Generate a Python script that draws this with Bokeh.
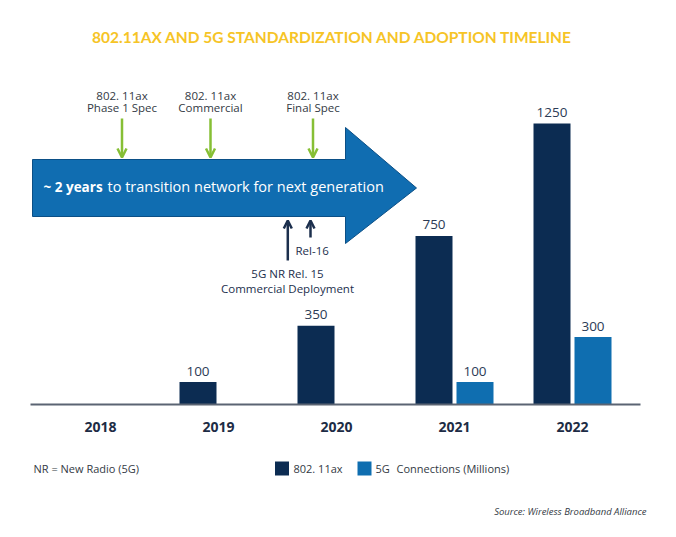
import numpy as np
from bokeh.plotting import figure
from bokeh.models import Range1d, Arrow, OpenHead
from bokeh.core.properties import value
from bokeh.embed import file_html
from bokeh.resources import INLINE

# ---------------- data ----------------
years = ["2018", "2019", "2020", "2021", "2022"]
wifi_ax = [0, 100, 350, 750, 1250]      # 802.11ax connections (millions)
five_g = [0, 0, 0, 100, 300]            # 5G connections (millions)

title = "802.11AX AND 5G STANDARDIZATION AND ADOPTION TIMELINE"
milestones_top = [("802. 11ax", "Phase 1 Spec"), ("802. 11ax", "Commercial"), ("802. 11ax", "Final Spec")]
arrow_bold = "~ 2 years"
arrow_text = "to transition network for next generation"

# ---------------- styles ----------------
W, H = 676, 537
NAVY = "#0c2c52"
BLUE = "#0f6eb0"
GREEN = "#86bf35"
TXT = "#333a44"
DARK = "#1c2f4d"
VAL = "#2c3b55"
FONT = "Open Sans"

p = figure(width=W, height=H, output_backend="svg", toolbar_location=None,
           x_range=Range1d(0, W), y_range=Range1d(H, 0),
           x_axis_type=None, y_axis_type=None, min_border=0,
           outline_line_color=None, background_fill_color="white",
           border_fill_color="white")
p.grid.visible = False

# value scales for the bars: year i -> pixel 100 + 118*i, value v -> 404 - 0.2248*v
x0_px, step_px = 100.0, 118.0
base_px, k = 404.0, 281.0 / 1250.0
p.extra_x_ranges = {"vx": Range1d(-x0_px / step_px, (W - x0_px) / step_px)}
p.extra_y_ranges = {"vy": Range1d(-(H - base_px) / k, base_px / k)}

idx = np.arange(len(years))
bw = 37.0 / step_px
off = 20.5 / step_px

wx = [i - off for i, v in zip(idx, wifi_ax) if v > 0]
wv = [v for v in wifi_ax if v > 0]
gx = [i + off for i, v in zip(idx, five_g) if v > 0]
gv = [v for v in five_g if v > 0]

p.vbar(x=wx, top=wv, bottom=0, width=bw, fill_color=NAVY, line_color=None,
       x_range_name="vx", y_range_name="vy")
p.vbar(x=gx, top=gv, bottom=0, width=bw, fill_color=BLUE, line_color=None,
       x_range_name="vx", y_range_name="vy")

for xs, vs in ((wx, wv), (gx, gv)):
    p.text(x=xs, y=vs, text=[str(v) for v in vs], x_range_name="vx", y_range_name="vy",
           text_align="center", text_baseline="middle", y_offset=-11,
           text_font=value(FONT), text_font_size="13.5px", text_color=VAL)

# baseline
p.segment(x0=[30], x1=[640], y0=[0], y1=[0], y_range_name="vy",
          line_color="#5b6473", line_width=2)

# year labels
p.text(x=list(idx), y=[0] * len(years), text=years, x_range_name="vx", y_range_name="vy",
       text_align="center", text_baseline="middle", y_offset=22,
       text_font=value(FONT), text_font_size="14px", text_font_style="bold",
       text_color="#1d2c45")

# ---------------- big arrow ----------------
ax = [32, 345, 345, 416, 345, 345, 32]
ay = [159, 159, 127, 187.5, 243, 216, 216]
p.patch(ax, ay, fill_color="#106db1", line_color="#0b4f86", line_width=1)

p.text(x=[43], y=[186], text=[arrow_bold], text_align="left", text_baseline="middle",
       text_font=value(FONT), text_font_size="13.5px", text_font_style="bold",
       text_color="white")
p.text(x=[107], y=[186], text=[arrow_text], text_align="left", text_baseline="middle",
       text_font=value(FONT), text_font_size="14.5px", text_color="white")

# ---------------- green milestone arrows ----------------
gxs = [121.5, 210, 312.5]
for xg, (l1, l2) in zip(gxs, milestones_top):
    p.add_layout(Arrow(end=OpenHead(size=9, line_color=GREEN, line_width=2.5),
                       x_start=xg, y_start=118, x_end=xg, y_end=157,
                       line_color=GREEN, line_width=2.5))
    p.text(x=[xg, xg], y=[95, 107], text=[l1, l2], text_align="center",
           text_baseline="middle", text_font=value(FONT), text_font_size="11.5px",
           text_color=TXT)

# ---------------- navy 5G arrows ----------------
p.add_layout(Arrow(end=OpenHead(size=8, line_color=DARK, line_width=2.5),
                   x_start=287.3, y_start=260, x_end=287.3, y_end=220,
                   line_color=DARK, line_width=2.5))
p.add_layout(Arrow(end=OpenHead(size=8, line_color=DARK, line_width=2.5),
                   x_start=310, y_start=237, x_end=310, y_end=220,
                   line_color=DARK, line_width=2.5))
p.text(x=[295], y=[250], text=["Rel-16"], text_align="left", text_baseline="middle",
       text_font=value(FONT), text_font_size="11.5px", text_color=DARK)
p.text(x=[287, 287], y=[273, 288], text=["5G NR Rel. 15", "Commercial Deployment"],
       text_align="center", text_baseline="middle", text_font=value(FONT),
       text_font_size="11.5px", text_color=DARK)

# ---------------- title ----------------
p.text(x=[332], y=[36], text=[title], text_align="center", text_baseline="middle",
       text_font=value("Lato"), text_font_size="15.5px", text_font_style="bold",
       text_color="#f6c426")

# ---------------- legend / footer ----------------
p.text(x=[33], y=[468], text=["NR = New Radio (5G)"], text_align="left",
       text_baseline="middle", text_font=value(FONT), text_font_size="11px",
       text_color=TXT)
p.rect(x=[281.5, 364], y=[468, 468], width=14, height=14,
       fill_color=[NAVY, BLUE], line_color=None)
p.text(x=[293, 375, 396], y=[468, 468, 468], text=["802. 11ax", "5G", "Connections (Millions)"],
       text_align="left", text_baseline="middle", text_font=value(FONT),
       text_font_size="11px", text_color=TXT)
p.text(x=[646], y=[511], text=["Source: Wireless Broadband Alliance"], text_align="right",
       text_baseline="middle", text_font=value(FONT), text_font_size="9.5px",
       text_font_style="italic", text_color=TXT)

open("out.html", "w").write(file_html(p, INLINE))
